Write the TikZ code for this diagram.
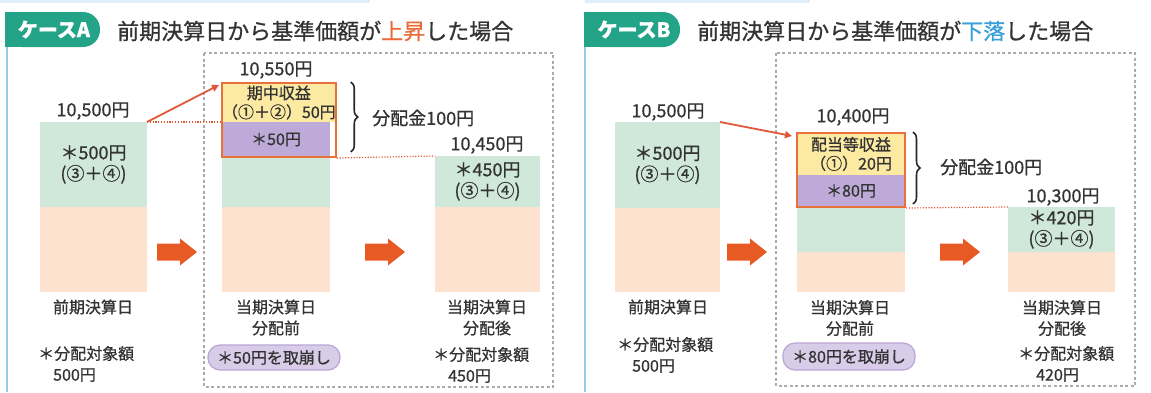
\documentclass[tikz,border=0pt]{standalone}
\usepackage{fontspec}
\setmainfont{Noto Sans CJK JP}[FakeBold=0.8]
\usetikzlibrary{arrows.meta,decorations.pathreplacing,fit,calc}
\definecolor{tealc}{HTML}{23A488}
\definecolor{txt}{HTML}{333333}
\definecolor{gbar}{HTML}{D0E8DA}
\definecolor{pbar}{HTML}{FDE3CF}
\definecolor{ybar}{HTML}{FCEAA2}
\definecolor{vbar}{HTML}{BDAAD8}
\definecolor{obord}{HTML}{E8703A}
\definecolor{barrow}{HTML}{E85A24}
\definecolor{redl}{HTML}{E0583A}
\definecolor{dashg}{HTML}{ABABAB}
\definecolor{pillf}{HTML}{D9CCE8}
\definecolor{pilld}{HTML}{B9A5D5}
\definecolor{blueline}{HTML}{94CBEA}
\definecolor{upc}{HTML}{EA6A3A}
\definecolor{downc}{HTML}{3AA0DA}
\tikzset{
 seg/.style={inner sep=0pt, outer sep=0pt, anchor=north west, text=txt, align=center, font=\fontsize{18}{21}\selectfont},
 boxseg/.style={seg, font=\fontsize{16}{19}\selectfont},
 val/.style={text=txt, inner sep=0pt, font=\fontsize{18}{21}\selectfont},
 lbl/.style={text=txt, inner sep=0pt, align=center, font=\fontsize{16}{21}\selectfont},
 note/.style={text=txt, inner sep=0pt, align=left, anchor=west, font=\fontsize{16}{21}\selectfont},
 pillnode/.style={fill=pillf, draw=pilld, line width=1.2pt, rounded corners=12pt, minimum width=132pt, minimum height=25pt, inner sep=0pt, text=txt, font=\fontsize{16}{19}\selectfont},
 hdr/.style={text=white, inner sep=0pt, font=\bfseries\fontsize{20}{22}\selectfont},
 ttl/.style={text=txt, inner sep=0pt, anchor=west, font=\fontsize{22}{24}\selectfont},
 dashbox/.style={draw=dashg, line width=1.1pt, dash pattern=on 3pt off 2.5pt},
 redarr/.style={draw=redl, line width=1.8pt, -{Triangle[length=7pt,width=7pt]}},
 dotl/.style={draw=redl, line width=1.2pt, dash pattern=on 1.2pt off 1.6pt},
 brc/.style={draw=black!85, line width=1.6pt, decorate, decoration={brace, amplitude=7pt}},
 boxframe/.style={draw=obord, line width=2pt, inner sep=0pt},
 pics/blockarrow/.style={code={\fill[barrow] (0,-8.5) -- (23,-8.5) -- (23,-13.5) -- (40,0) -- (23,13.5) -- (23,8.5) -- (0,8.5) -- cycle;}}
}
\begin{document}
\begin{tikzpicture}[x=1pt,y=-1pt]
\useasboundingbox (0,0) rectangle (1151,392);
% panel borders
\fill[blueline!30] (0,0) rectangle (370,3);
\fill[blueline!30] (585,0) rectangle (810,3);
\draw[blueline, line width=2.5pt] (7,46) -- (7,392);
\draw[blueline, line width=2.5pt] (585,46) -- (585,392);
% headers
\fill[tealc, rounded corners=17pt] (5,12) rectangle (100,47);
\fill[tealc] (5,12) rectangle (50,47);
\node[hdr] (hA) at (54,29.5) {ケースA};
\node[ttl] (tA) at (117,31) {前期決算日から基準価額が\textcolor{upc}{上昇}した場合};
\fill[tealc, rounded corners=17pt] (584,12) rectangle (680,47);
\fill[tealc] (584,12) rectangle (630,47);
\node[hdr] (hB) at (634,29.5) {ケースB};
\node[ttl] (tB) at (697,31) {前期決算日から基準価額が\textcolor{downc}{下落}した場合};
% dashed frames
\draw[dashbox] (204,53) rectangle (553,387);
\draw[dashbox] (776,53) rectangle (1135,386);

% ===== Case A =====
\node[seg, fill=gbar, minimum width=107pt, minimum height=85pt] (a1g) at (40,122) {＊500円\\(③＋④)};
\node[seg, fill=pbar, minimum width=107pt, minimum height=85pt] (a1p) at (40,207) {};
\node[val] (a1v) at (93,111) {10,500円};

\node[boxseg, fill=ybar, minimum width=108pt, minimum height=39pt] (a2y) at (222,83) {期中収益\\（①＋②）50円};
\node[boxseg, fill=vbar, minimum width=108pt, minimum height=35pt] (a2v) at (222,122) {＊50円};
\node[seg, fill=gbar, minimum width=108pt, minimum height=50pt] (a2g) at (222,157) {};
\node[seg, fill=pbar, minimum width=108pt, minimum height=85pt] (a2p) at (222,207) {};
\node[boxframe, fit=(a2y)(a2v)] (a2box) {};
\node[val] (a2val) at (276,70) {10,550円};

\node[seg, fill=gbar, minimum width=105pt, minimum height=51pt] (a3g) at (435,156) {＊450円\\(③＋④)};
\node[seg, fill=pbar, minimum width=105pt, minimum height=85pt] (a3p) at (435,207) {};
\node[val] (a3val) at (487,145) {10,450円};

\draw[dotl] (a1g.north east) -- (a1g.north east -| a2box.west);
\draw[redarr] (a1g.north east) -- ($(a2box.north west)+(-2,3)$);
\draw[dotl] (a2box.south east) -- (a3g.north west);
\draw[brc] ($(a2box.north east)+(14,0)$) -- ($(a2box.south east)+(14,-6)$);
\node[val, anchor=west] (a2dist) at (372,118) {分配金100円};

\pic at (157,252) {blockarrow};
\pic at (365,252) {blockarrow};

\node[lbl] (a1d) at (93,307) {前期決算日};
\node[lbl] (a2d) at (276,317.5) {当期決算日\\分配前};
\node[lbl] (a3d) at (487,317.5) {当期決算日\\分配後};
\node[note] (a1n) at (38,364) {＊分配対象額\\\hspace*{15pt}500円};
\node[pillnode] (a2pill) at (274,357.5) {＊50円を取崩し};
\node[note] (a3n) at (433,365) {＊分配対象額\\\hspace*{15pt}450円};

% ===== Case B =====
\node[seg, fill=gbar, minimum width=105pt, minimum height=86pt] (b1g) at (615,122) {＊500円\\(③＋④)};
\node[seg, fill=pbar, minimum width=105pt, minimum height=84pt] (b1p) at (615,208) {};
\node[val] (b1v) at (668,112) {10,500円};

\node[boxseg, fill=ybar, minimum width=108pt, minimum height=42pt] (b2y) at (797,133) {配当等収益\\（①）20円};
\node[boxseg, fill=vbar, minimum width=108pt, minimum height=32pt] (b2v) at (797,175) {＊80円};
\node[seg, fill=gbar, minimum width=108pt, minimum height=45pt] (b2g) at (797,207) {};
\node[seg, fill=pbar, minimum width=108pt, minimum height=40pt] (b2p) at (797,252) {};
\node[boxframe, fit=(b2y)(b2v)] (b2box) {};
\node[val] (b2val) at (853,117) {10,400円};

\node[seg, fill=gbar, minimum width=107pt, minimum height=45pt] (b3g) at (1008,207) {＊420円\\(③＋④)};
\node[seg, fill=pbar, minimum width=107pt, minimum height=40pt] (b3p) at (1008,252) {};
\node[val] (b3val) at (1063,197) {10,300円};

\draw[redarr] (b1g.north east) -- ($(b2box.north west)+(-4,4)$);
\draw[dotl] (b2box.south east) -- (b3g.north west);
\draw[brc] ($(b2box.north east)+(7,0)$) -- ($(b2box.south east)+(7,-4)$);
\node[val, anchor=west] (b2dist) at (940,167) {分配金100円};

\pic at (727,252) {blockarrow};
\pic at (940,252) {blockarrow};

\node[lbl] (b1d) at (668,307) {前期決算日};
\node[lbl] (b2d) at (850,318) {当期決算日\\分配前};
\node[lbl] (b3d) at (1062,318) {当期決算日\\分配後};
\node[note] (b1n) at (617,355) {＊分配対象額\\\hspace*{15pt}500円};
\node[pillnode, minimum height=27pt] (b2pill) at (849,356.5) {＊80円を取崩し};
\node[note] (b3n) at (1018,364) {＊分配対象額\\\hspace*{18pt}420円};
\end{tikzpicture}
\end{document}
